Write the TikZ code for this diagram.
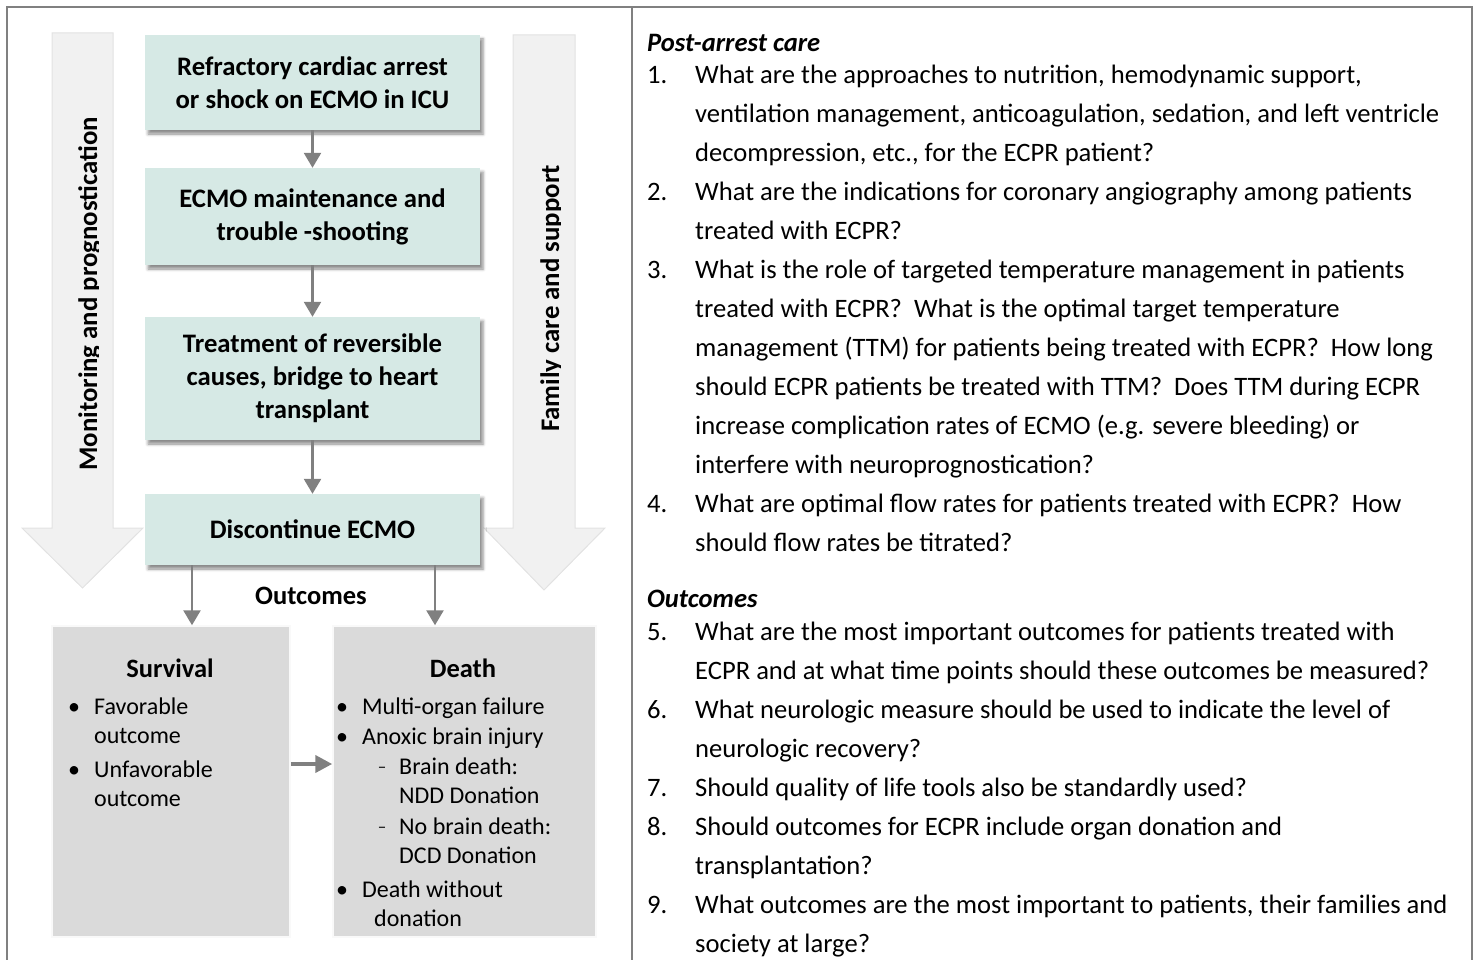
\documentclass[tikz,border=0pt]{standalone}
\usepackage{fontspec}
\setmainfont{Carlito}
\usetikzlibrary{arrows.meta,shadows.blur}
\definecolor{framec}{RGB}{128,128,128}
\definecolor{arrowc}{RGB}{128,128,128}
\definecolor{tealbox}{RGB}{214,233,229}
\definecolor{graybox}{RGB}{218,218,218}
\definecolor{bigfill}{RGB}{241,241,241}
\definecolor{bigedge}{RGB}{226,226,226}
\begin{document}
\begin{tikzpicture}[x=1pt,y=-1pt,
  flowbox/.style={fill=tealbox, minimum width=335pt, align=center, inner sep=0pt,
    font=\bfseries\fontsize{26.7}{33}\selectfont,
    blur shadow={shadow xshift=3pt, shadow yshift=-4pt, shadow blur radius=3pt, shadow opacity=45}},
  outbox/.style={fill=graybox, draw=white!85!graybox, line width=1.5pt, inner sep=0pt},
  conn/.style={draw=arrowc, line width=2.6pt, -{Triangle[width=17pt,length=15pt]}},
  conntwo/.style={draw=arrowc, line width=4pt, -{Triangle[width=17pt,length=17pt]}},
  bigarrow/.style={fill=bigfill, draw=bigedge, line width=1pt},
  vtext/.style={rotate=90, font=\bfseries\fontsize{26.8}{30}\selectfont, inner sep=0pt},
  ttl/.style={font=\bfseries\fontsize{26.5}{30}\selectfont, inner sep=0pt},
  lst/.style={font=\fontsize{24}{29.5}\selectfont, inner sep=0pt, align=left},
  dsh/.style={font=\fontsize{17}{20}\selectfont, inner sep=0pt},
  qnum/.style={font=\fontsize{26.6}{39}\selectfont, inner sep=0pt, anchor=base west},
  qtext/.style={font=\fontsize{26.6}{39}\selectfont, inner sep=0pt, anchor=base west, align=left},
  qhead/.style={font=\bfseries\itshape\fontsize{26.6}{39}\selectfont, inner sep=0pt, anchor=base west}
]
\useasboundingbox (0,0) rectangle (1478,960);

% frame
\draw[framec, line width=2pt] (7,960) -- (7,7) -- (1472,7) -- (1472,960);
\draw[framec, line width=2pt] (632,7) -- (632,960);

% big background arrows
\draw[bigarrow] (52,33) -- (113,33) -- (113,528) -- (143,528) -- (82.5,588) -- (22,528) -- (52,528) -- cycle;
\draw[bigarrow] (513,35) -- (575,35) -- (575,528) -- (605,528) -- (544,590) -- (484,528) -- (513,528) -- cycle;
\begin{scope}
  \clip (40,100) rectangle (98.5,490);
  \node[vtext, anchor=base] (mon) at (97,294) {Monitoring and prognostication};
\end{scope}
\begin{scope}
  \clip (500,100) rectangle (560.5,490);
  \node[vtext, anchor=base] (fam) at (559,298.5) {Family care and support};
\end{scope}

% flow boxes
\node[flowbox, minimum height=95pt] (b1) at (312.5,82.5) {Refractory cardiac arrest\\or shock on ECMO in ICU};
\node[flowbox, minimum height=97pt] (b2) at (312.5,216.5) {ECMO maintenance and\\trouble -shooting};
\node[flowbox, minimum height=123pt] (b3) at (312.5,378.5) {Treatment of reversible\\causes, bridge to heart\\transplant};
\node[flowbox, minimum height=71pt] (b4) at (312.5,529.5) {Discontinue ECMO};

\draw[conn] (b1.south) -- (b2.north);
\draw[conn] (b2.south) -- (b3.north);
\draw[conn] (b3.south) -- (b4.north);

\node[ttl] (outc) at (311,596) {Outcomes};

% outcome boxes
\node[outbox, minimum width=238pt, minimum height=311pt] (surv) at (171,781.5) {};
\node[outbox, minimum width=263pt, minimum height=311pt] (death) at (464.5,781.5) {};

\draw[conn] ([xshift=-120.5pt]b4.south) -- ([xshift=-120.5pt]b4.south |- surv.north);
\draw[conn] ([xshift=122.5pt]b4.south) -- ([xshift=122.5pt]b4.south |- death.north);
\draw[conntwo] ([yshift=17.5pt]surv.east) -- ([yshift=17.5pt]death.west);

% survival contents (base anchor = baseline of last line)
\node[ttl] (survt) at (170,668) {Survival};
\node[lst, anchor=base] (sb1) at (74,714) {•};
\node[lst, anchor=base west] (sl1) at (94,743.5) {Favorable\\outcome};
\node[lst, anchor=base] (sb2) at (74,777) {•};
\node[lst, anchor=base west] (sl2) at (94,806.5) {Unfavorable\\outcome};

% death contents
\node[ttl] (deatht) at (463,668) {Death};
\node[lst, anchor=base] (db1) at (342,714) {•};
\node[lst, anchor=base west] (dl1) at (362,714) {Multi-organ failure};
\node[lst, anchor=base] (db2) at (342,744) {•};
\node[lst, anchor=base west] (dl2) at (362,744) {Anoxic brain injury};
\node[dsh, anchor=base] (dd1) at (382,772) {–};
\node[lst, anchor=base west] (dl3) at (399,803.5) {Brain death:\\NDD Donation};
\node[dsh, anchor=base] (dd2) at (382,832) {–};
\node[lst, anchor=base west] (dl4) at (399,863.5) {No brain death:\\DCD Donation};
\node[lst, anchor=base] (db3) at (342,897) {•};
\node[lst, anchor=base west] (dl5) at (362,897) {Death without};
\node[lst, anchor=base west] (dl6) at (374,926) {donation};

% right panel (base anchor = baseline of last line)
\node[qhead] (h1) at (647,51.5) {Post-arrest care};
\node[qnum] (n1) at (647,83.5) {1.};
\node[qtext] (q1) at (695,161.5) {What are the approaches to nutrition, hemodynamic support,\\ventilation management, anticoagulation, sedation, and left ventricle\\decompression, etc., for the ECPR patient?};
\node[qnum] (n2) at (647,200.5) {2.};
\node[qtext] (q2) at (695,239.5) {What are the indications for coronary angiography among patients\\treated with ECPR?};
\node[qnum] (n3) at (647,278.5) {3.};
\node[qtext] (q3) at (695,473.5) {What is the role of targeted temperature management in patients\\treated with ECPR?\ \ What is the optimal target temperature\\management (TTM) for patients being treated with ECPR?\ \ How long\\should ECPR patients be treated with TTM?\ \ Does TTM during ECPR\\increase complication rates of ECMO (e.g. severe bleeding) or\\interfere with neuroprognostication?};
\node[qnum] (n4) at (647,512.5) {4.};
\node[qtext] (q4) at (695,551.5) {What are optimal flow rates for patients treated with ECPR?\ \ How\\should flow rates be titrated?};

\node[qhead] (h2) at (647,607.5) {Outcomes};
\node[qnum] (n5) at (647,640.5) {5.};
\node[qtext] (q5) at (695,679.5) {What are the most important outcomes for patients treated with\\ECPR and at what time points should these outcomes be measured?};
\node[qnum] (n6) at (647,718.5) {6.};
\node[qtext] (q6) at (695,757.5) {What neurologic measure should be used to indicate the level of\\neurologic recovery?};
\node[qnum] (n7) at (647,796.5) {7.};
\node[qtext] (q7) at (695,796.5) {Should quality of life tools also be standardly used?};
\node[qnum] (n8) at (647,835.5) {8.};
\node[qtext] (q8) at (695,874.5) {Should outcomes for ECPR include organ donation and\\transplantation?};
\node[qnum] (n9) at (647,913.5) {9.};
\node[qtext] (q9) at (695,952.5) {What outcomes are the most important to patients, their families and\\society at large?};
\end{tikzpicture}
\end{document}
